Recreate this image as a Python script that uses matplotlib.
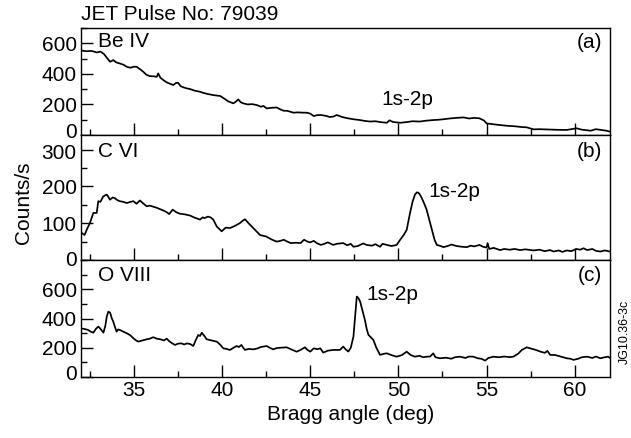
import matplotlib
matplotlib.use("Agg")
import matplotlib.pyplot as plt
from matplotlib.ticker import MultipleLocator
from matplotlib.transforms import ScaledTranslation

plt.rcParams['font.family'] = ['Liberation Sans', 'DejaVu Sans']

# ---- data ----
be_x = [32.0, 32.3, 32.6, 32.9, 33.1, 33.3, 33.5, 33.65, 33.83, 34.0, 34.2, 34.4, 34.6, 34.8, 35.0, 35.16, 35.35,
        35.53, 35.7, 35.9, 36.1, 36.3, 36.38, 36.5, 36.67, 36.85, 37.05, 37.24, 37.38, 37.5, 37.65, 37.8, 38.0, 38.2,
        38.45, 38.75, 38.95, 39.2, 39.5, 39.7, 39.9, 40.1, 40.35, 40.64, 40.8, 40.92, 41.05, 41.2, 41.45, 41.7, 41.97,
        42.2, 42.35, 42.53, 42.8, 43.1, 43.3, 43.48, 43.7, 44.05, 44.3, 44.6, 44.8, 45.0, 45.2, 45.4, 45.6, 45.9, 46.1,
        46.3, 46.5, 46.8, 47.1, 47.45, 47.8, 48.1, 48.4, 48.7, 49.0, 49.34, 49.5, 49.7, 50.1, 50.5, 50.8, 51.2, 51.6,
        52.0, 52.3, 52.55, 52.9, 53.3, 53.7, 54.0, 54.3, 54.6, 54.85, 55.0, 55.4, 55.77, 56.2, 56.6, 57.0, 57.28, 57.66,
        58.0, 58.5, 59.0, 59.55, 59.9, 60.1, 60.4, 60.9, 61.2, 61.5, 61.8, 62.0]
be_y = [553, 548, 550, 540, 546, 530, 500, 479, 490, 475, 468, 460, 446, 440, 447, 446, 430,
        414, 395, 385, 384, 381, 403, 375, 359, 345, 335, 327, 340, 342, 320, 312, 305, 300,
        290, 283, 275, 268, 261, 258, 255, 240, 220, 207, 220, 233, 215, 207, 200, 202, 196,
        185, 190, 174, 178, 180, 168, 159, 158, 146, 148, 146, 146, 140, 124, 130, 131, 125, 118,
        120, 131, 118, 110, 103, 98, 92, 88, 90, 84, 80, 96, 85, 80, 85, 90, 88, 94,
        98, 100, 103, 108, 112, 115, 108, 112, 109, 95, 76, 70, 65, 60, 57, 52, 50, 37,
        38, 36, 34, 33, 40, 44, 35, 28, 38, 33, 28, 22]

c_x = [32.0, 32.2, 32.35, 32.5, 32.7, 32.89, 32.98, 33.1, 33.26, 33.46, 33.55, 33.64, 33.8, 33.93, 34.05, 34.2,
       34.4, 34.6, 34.8, 34.97, 35.15, 35.34, 35.5, 35.73, 35.9, 36.1, 36.3, 36.5, 36.7, 36.86, 37.0, 37.2, 37.4,
       37.6, 37.9, 38.18, 38.45, 38.75, 38.9, 39.0, 39.2, 39.35, 39.5, 39.7, 39.85, 39.98, 40.2, 40.45, 40.7, 41.0,
       41.15, 41.3, 41.5, 41.77, 41.95, 42.15, 42.5, 42.8, 43.1, 43.3, 43.5, 43.7, 43.9, 44.2, 44.45, 44.65, 44.85,
       45.0, 45.2, 45.37, 45.6, 45.8, 46.0, 46.3, 46.5, 46.87, 47.1, 47.3, 47.45, 47.7, 48.0, 48.2, 48.5, 48.7,
       48.96, 49.1, 49.34, 49.6, 49.9, 50.1, 50.3, 50.47, 50.66, 50.8, 50.94, 51.05, 51.13, 51.22, 51.32, 51.45,
       51.6, 51.75, 51.9, 52.05, 52.18, 52.4, 52.55, 52.8, 53.0, 53.3, 53.6, 53.88, 54.1, 54.3, 54.6, 54.8, 55.0,
       55.06, 55.15, 55.4, 55.77, 56.0, 56.3, 56.6, 56.9, 57.2, 57.66, 58.0, 58.3, 58.6, 58.8, 59.1, 59.3, 59.55,
       59.8, 60.1, 60.3, 60.5, 60.7, 61.0, 61.2, 61.45, 61.7, 62.0]
c_y = [75, 68, 85, 100, 128, 128, 160, 158, 173, 178, 172, 164, 170, 168, 163, 160,
       158, 155, 158, 160, 153, 162, 155, 146, 148, 145, 142, 138, 134, 130, 125, 137, 130,
       126, 124, 121, 115, 110, 116, 114, 118, 116, 110, 91, 84, 78, 88, 87, 92, 100,
       106, 111, 100, 87, 78, 68, 64, 56, 50, 52, 55, 50, 46, 47, 46, 55, 50,
       48, 52, 46, 41, 44, 48, 41, 44, 46, 40, 44, 36, 38, 45, 41, 39, 43,
       36, 44, 41, 38, 41, 55, 68, 82, 128, 158, 178, 184, 183, 178, 169, 155,
       137, 110, 82, 55, 41, 38, 35, 38, 42, 38, 36, 35, 39, 37, 41, 36, 34,
       46, 30, 33, 27, 30, 28, 30, 27, 29, 26, 28, 24, 27, 23, 26, 22, 26,
       24, 30, 28, 32, 27, 30, 25, 23, 26, 23]

o_x = [32.0, 32.2, 32.4, 32.55, 32.7, 32.85, 32.98, 33.1, 33.27, 33.38, 33.46, 33.55, 33.65, 33.75, 33.83, 33.93,
       34.02, 34.1, 34.2, 34.4, 34.6, 34.8, 34.97, 35.1, 35.25, 35.5, 35.73, 35.9, 36.1, 36.3, 36.5, 36.7, 36.86,
       37.0, 37.15, 37.33, 37.5, 37.7, 37.85, 38.0, 38.2, 38.37, 38.5, 38.65, 38.75, 38.85, 39.0, 39.13, 39.4, 39.7,
       39.9, 40.07, 40.25, 40.45, 40.65, 40.83, 40.95, 41.1, 41.2, 41.3, 41.5, 41.77, 42.0, 42.2, 42.53, 42.7, 42.9,
       43.1, 43.3, 43.66, 43.9, 44.23, 44.45, 44.7, 44.85, 45.0, 45.2, 45.4, 45.57, 45.74, 46.0, 46.3, 46.68, 46.87,
       47.0, 47.16, 47.3, 47.45, 47.55, 47.64, 47.73, 47.83, 47.95, 48.1, 48.2, 48.3, 48.45, 48.58, 48.75, 48.96,
       49.15, 49.34, 49.6, 49.9, 50.2, 50.47, 50.7, 50.94, 51.2, 51.4, 51.6, 51.8, 51.98, 52.1, 52.36, 52.7, 53.0,
       53.2, 53.5, 53.8, 54.0, 54.25, 54.5, 54.7, 54.92, 55.1, 55.39, 55.7, 56.0, 56.3, 56.52, 56.8, 57.0, 57.28,
       57.5, 57.8, 58.04, 58.3, 58.45, 58.61, 58.9, 59.2, 59.55, 59.75, 59.93, 60.2, 60.4, 60.7, 61.0, 61.2, 61.45,
       61.7, 61.9, 62.0]
o_y = [333, 328, 322, 310, 303, 330, 345, 330, 303, 350, 413, 447, 440, 400, 379, 340,
       310, 325, 322, 310, 299, 285, 265, 252, 242, 250, 258, 262, 272, 262, 258, 250, 262,
       245, 232, 219, 228, 230, 222, 230, 225, 212, 250, 288, 280, 303, 280, 258, 250, 242,
       220, 196, 192, 185, 200, 212, 205, 219, 200, 185, 192, 189, 195, 205, 212, 200, 189,
       198, 200, 203, 190, 173, 185, 203, 185, 173, 196, 190, 196, 167, 180, 185, 185, 208,
       190, 174, 200, 276, 420, 550, 540, 516, 460, 390, 330, 288, 270, 253, 200, 151,
       158, 162, 150, 139, 150, 173, 150, 139, 145, 135, 139, 140, 162, 135, 128, 132, 125,
       135, 139, 130, 140, 139, 128, 125, 112, 130, 139, 135, 140, 136, 139, 160, 185, 203,
       195, 185, 174, 165, 178, 151, 150, 140, 128, 125, 117, 125, 135, 139, 130, 140, 128,
       135, 139, 130]

series = [(be_x, be_y), (c_x, c_y), (o_x, o_y)]
ion_names = ["Be IV", "C VI", "O VIII"]
panel_tags = ["(a)", "(b)", "(c)"]
ylims = [(0, 700), (0, 340), (0, 800)]
yticks = [[0, 200, 400, 600], [0, 100, 200, 300], [0, 200, 400, 600]]
yminor = [100, 50, 100]
line_label = "1s-2p"
line_label_pos = [(49.05, 230), (51.7, 185), (48.2, 565)]
x_ticks = [35, 40, 45, 50, 55, 60]

# ---- figure ----
W, H = 631, 438
fig = plt.figure(figsize=(W / 100, H / 100), dpi=100)
left, right = 81 / W, 610 / W
edges = [28, 135, 260, 377]
fs = 15
zero_shift = [5, 2, 5]   # px the "0" label is raised
top_shift = [0, -2, 0]   # px the top tick label is moved
for i in range(3):
    top = 1 - edges[i] / H
    bot = 1 - edges[i + 1] / H
    ax = fig.add_axes([left, bot, right - left, top - bot])
    x, y = series[i]
    ax.plot(x, y, color='black', lw=1.25)
    ax.set_xlim(32, 62)
    ax.set_ylim(*ylims[i])
    ax.xaxis.set_major_locator(MultipleLocator(5))
    ax.xaxis.set_minor_locator(MultipleLocator(2.5))
    ax.set_yticks(yticks[i])
    ax.yaxis.set_minor_locator(MultipleLocator(yminor[i]))
    ax.tick_params(which='both', direction='in', top=False, right=False, labelsize=fs, width=1.0, pad=3)
    ax.tick_params(which='major', length=8.5)
    ax.tick_params(which='minor', length=4.3)
    for s in ax.spines.values():
        s.set_linewidth(1.0)
    if i < 2:
        ax.tick_params(labelbottom=False)
    else:
        ax.set_xticks(x_ticks)
    fig.canvas.draw()
    labels = ax.get_yticklabels()
    zl = labels[0]
    zl.set_transform(zl.get_transform() + ScaledTranslation(0, zero_shift[i] / 100, fig.dpi_scale_trans))
    tl = labels[-1]
    tl.set_transform(tl.get_transform() + ScaledTranslation(0, top_shift[i] / 100, fig.dpi_scale_trans))
    ax.text(0.032, 0.87, ion_names[i], transform=ax.transAxes, fontsize=fs, va='center', ha='left')
    ax.text(0.985, 0.865, panel_tags[i], transform=ax.transAxes, fontsize=fs, va='center', ha='right')
    lx, ly = line_label_pos[i]
    ax.text(lx, ly, line_label, fontsize=fs, va='center', ha='left')

fig.text(81 / W, 1 - 15 / H, "JET Pulse No: 79039", fontsize=fs, va='center', ha='left')
fig.text(23 / W, 1 - 203 / H, "Counts/s", fontsize=fs, rotation=90, va='center', ha='center')
fig.text(351 / W, 1 - 414 / H, "Bragg angle (deg)", fontsize=fs, va='center', ha='center')
fig.text(625 / W, 1 - 332 / H, "JG10.36-3c", fontsize=9, rotation=90, va='center', ha='center')

fig.savefig("out.png", dpi=100)
